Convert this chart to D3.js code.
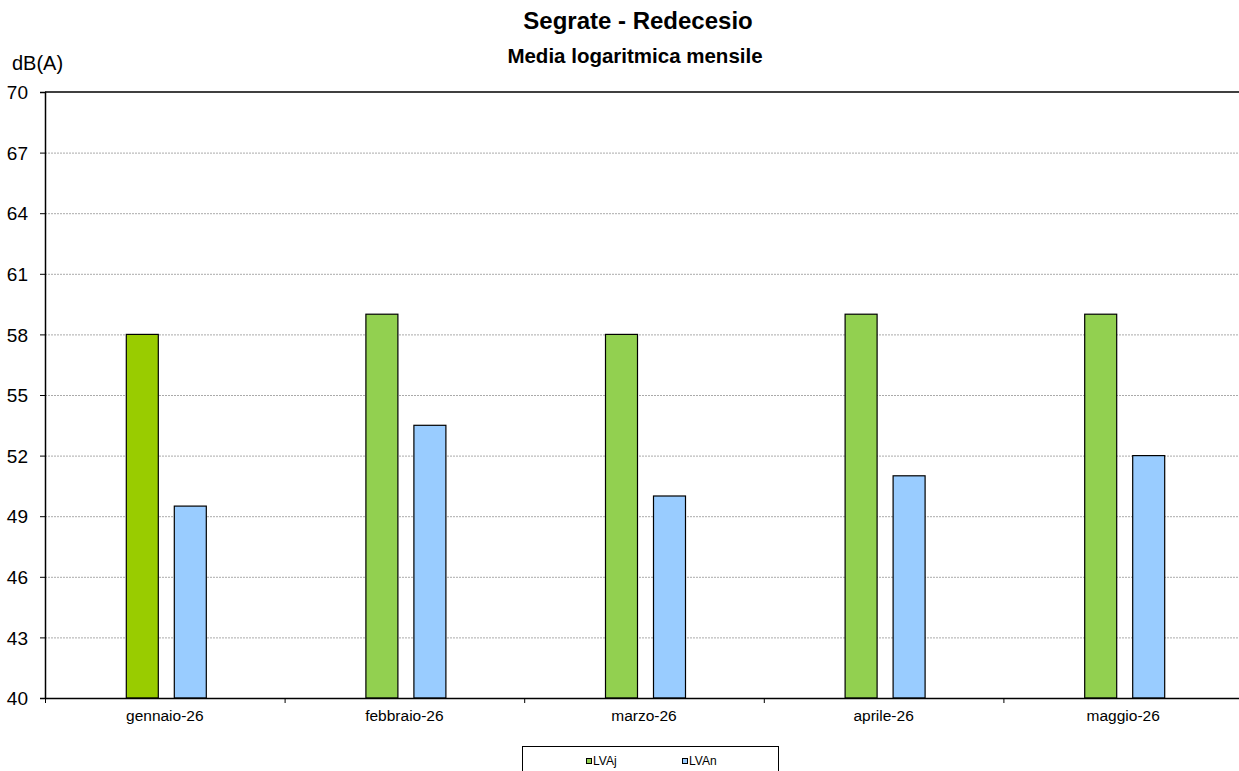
<!DOCTYPE html>
<html><head><meta charset="utf-8">
<script src="https://cdn.jsdelivr.net/npm/d3@7"></script>
<style>body{margin:0;background:#fff;font-family:"Liberation Sans",Arial,sans-serif;}</style>
</head><body><svg id="c" width="1239" height="771" font-family="Liberation Sans, Arial, sans-serif"></svg>
<script>
const categories = ["gennaio-26","febbraio-26","marzo-26","aprile-26","maggio-26"];
const seriesNames = ["LVAj","LVAn"];
const lvaj = [58, 59, 58, 59, 59];
const lvan = [49.5, 53.5, 50, 51, 52];
const yTicks = [40,43,46,49,52,55,58,61,64,67,70];
const jColors = ["#99CC00","#92D050","#92D050","#92D050","#92D050"];
const nColor = "#99CCFF";

const svg = d3.select("#c");
const L = 45, R = 1243, T = 92, B = 698;
const x = d3.scaleBand().domain(categories).range([L, R]);
const y = d3.scaleLinear().domain([40,70]).range([B, T]);

// gridlines
svg.append("g").selectAll("line").data(yTicks.filter(d=>d>40 && d<70)).join("line")
  .attr("x1", L).attr("x2", R).attr("y1", d=>y(d)+0.5).attr("y2", d=>y(d)+0.5)
  .attr("stroke","#aaa").attr("stroke-width",1).attr("stroke-dasharray","2,1");
// top border
svg.append("line").attr("x1",L).attr("x2",R).attr("y1",T).attr("y2",T).attr("stroke","#000").attr("stroke-width",1.5);

// bars
const bw = 32;
const g = svg.append("g");
g.selectAll("rect.j").data(categories).join("rect")
  .attr("x", (d,i)=> x(d) + x.bandwidth()/2 - 38.5)
  .attr("y", (d,i)=> y(lvaj[i]))
  .attr("width", bw).attr("height", (d,i)=> B - y(lvaj[i]))
  .attr("fill", (d,i)=>jColors[i]).attr("stroke","#000").attr("stroke-width",1.2);
g.selectAll("rect.n").data(categories).join("rect")
  .attr("x", (d,i)=> x(d) + x.bandwidth()/2 + 9.5)
  .attr("y", (d,i)=> y(lvan[i]))
  .attr("width", bw).attr("height", (d,i)=> B - y(lvan[i]))
  .attr("fill", nColor).attr("stroke","#000").attr("stroke-width",1.2);

// y axis
const ya = svg.append("g").attr("transform",`translate(${L},0)`)
  .call(d3.axisLeft(y).tickValues(yTicks).tickSize(5).tickPadding(12).tickFormat(d3.format("d")));
ya.select(".domain").attr("stroke","#000").attr("stroke-width",1.5);
ya.selectAll("text").attr("font-size",19).attr("font-family","Liberation Sans, Arial").attr("fill","#000").attr("dy","0.35em");
ya.selectAll(".tick line").attr("stroke","#000");

// x axis
const xa = svg.append("g").attr("transform",`translate(0,${B})`)
  .call(d3.axisBottom(x).tickSize(0).tickPadding(0));
xa.select(".domain").attr("stroke","#000").attr("stroke-width",1.5);
xa.selectAll("text").attr("font-size",15.5).attr("font-family","Liberation Sans, Arial").attr("fill","#000")
  .attr("dy",null).attr("y",23);
// category separators
svg.append("g").selectAll("line").data(categories).join("line")
  .attr("x1", d=>x(d)+0.5).attr("x2", d=>x(d)+0.5).attr("y1", B).attr("y2", B+5)
  .attr("stroke","#000");

// titles
svg.append("text").attr("x",638).attr("y",29).attr("text-anchor","middle")
  .attr("font-size",24).attr("font-weight","bold").text("Segrate - Redecesio");
svg.append("text").attr("x",635).attr("y",63).attr("text-anchor","middle")
  .attr("font-size",20.5).attr("font-weight","bold").text("Media logaritmica mensile");
svg.append("text").attr("x",12).attr("y",70).attr("font-size",20).text("dB(A)");

// legend
const lg = svg.append("g");
lg.append("rect").attr("x",522.5).attr("y",746.5).attr("width",256).attr("height",40)
  .attr("fill","#fff").attr("stroke","#000").attr("stroke-width",1);
const lx = [586, 682];
const lcol = ["#92D050", nColor];
seriesNames.forEach((s,i)=>{
  lg.append("rect").attr("x",lx[i]+0.5).attr("y",758.5).attr("width",5).attr("height",5)
    .attr("fill",lcol[i]).attr("stroke","#000").attr("stroke-width",1);
  lg.append("text").attr("x",lx[i]+7).attr("y",765).attr("font-size",12).text(s);
});
</script></body></html>
